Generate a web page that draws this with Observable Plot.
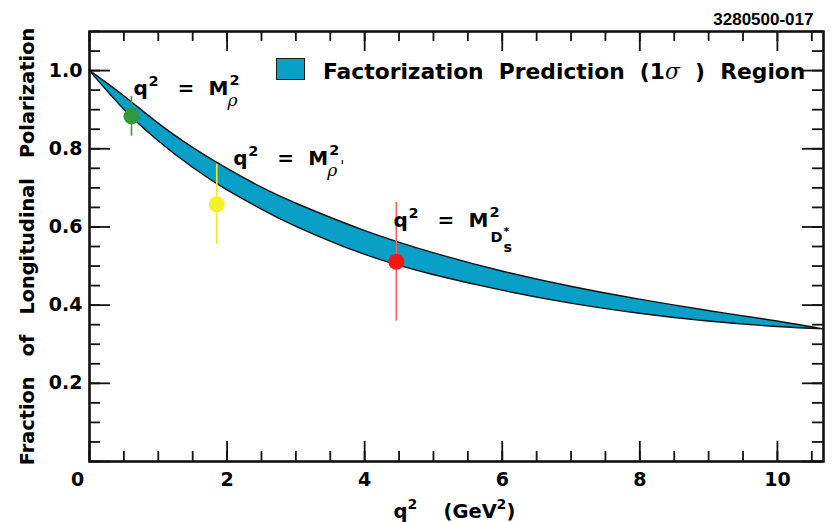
<!DOCTYPE html>
<html><head><meta charset="utf-8">
<script src="https://cdn.jsdelivr.net/npm/d3@7"></script>
<script src="https://cdn.jsdelivr.net/npm/@observablehq/plot@0.6"></script>
<style>
html,body{margin:0;padding:0;background:#fff;}
#wrap{position:relative;width:832px;height:522px;overflow:hidden;}
svg text{white-space:pre;}
#swatch{position:absolute;left:276px;top:58px;width:27px;height:20px;border:1.5px solid #1a1a1a;}
#legtext{position:absolute;left:323px;top:61px;font:bold 21.8px "DejaVu Sans",sans-serif;line-height:22px;white-space:pre;color:#000;}
#legtext i{font-family:"DejaVu Serif",serif;font-weight:normal;font-style:italic;}
</style></head><body><div id="wrap"></div>
<script>
// ---- data ----
const bandQ2    = [0, 0.5, 1, 1.5, 2, 2.5, 3, 4, 5, 6, 7, 8, 9, 10, 10.67];
const bandUpper = [1.0, 0.935, 0.865, 0.803, 0.749, 0.701, 0.660, 0.590, 0.533, 0.486, 0.447, 0.414, 0.385, 0.358, 0.338];
const bandLower = [1.0, 0.901, 0.820, 0.752, 0.694, 0.645, 0.601, 0.529, 0.477, 0.437, 0.404, 0.378, 0.358, 0.344, 0.338];

const pointQ2    = [0.61, 1.85, 4.46];
const pointFL    = [0.883, 0.658, 0.511];
const pointErr   = [0.051, 0.102, 0.152];
const pointColor = ["#2f9a37", "#f2f22a", "#ff1414"];
const barColor   = ["#3aa043", "#ecec30", "#ff5e5e"];

const labelQ2    = [0.64, 2.09, 4.42];
const labelFL    = [0.937, 0.758, 0.601];
const labelMeson = ["ρ", "ρ'", "D_s^*"];

const xMajor = [0, 2, 4, 6, 8, 10];
const xMinor = d3.range(0, 10.51, 0.5);
const yMajor = [0, 0.2, 0.4, 0.6, 0.8, 1.0];
const yMinor = d3.range(0, 1.101, 0.05);
const yLabels = [0.2, 0.4, 0.6, 0.8, 1.0];

const xTitle = ["q", "2", "(GeV", "2", ")"];
const yTitle = "Fraction   of   Longitudinal   Polarization";
const legendParts = ["Factorization  Prediction  (1", "σ", "  )  Region"];
const figId = "3280500-017";
const bandColor = "#0a9fc6";

// ---- tables ----
const band = bandQ2.map((q, i) => ({q2: q, hi: bandUpper[i], lo: bandLower[i]}));
const points = pointQ2.map((q, i) => ({q2: q, fl: pointFL[i], err: pointErr[i], color: pointColor[i], bar: barColor[i]}));
const labels = labelQ2.map((q, i) => ({q2: q, fl: labelFL[i], meson: labelMeson[i]}));

const font = "'DejaVu Sans', sans-serif";
const W = 832, H = 522, mL = 89, mR = 9, mT = 31, mB = 61;
const fw = W - mL - mR, fh = H - mT - mB;
const tickW = 1.8, bigX = 20, smallX = 10, bigY = 21, smallY = 11;

const chart = Plot.plot({
  width: W, height: H,
  marginLeft: mL, marginRight: mR, marginTop: mT, marginBottom: mB,
  x: {domain: [0, 10.67], axis: null},
  y: {domain: [0, 1.1], axis: null},
  style: {fontFamily: font, background: "white", color: "black"},
  marks: [
    Plot.areaY(band, {x: "q2", y1: "lo", y2: "hi", fill: bandColor, stroke: "#111", strokeWidth: 1.4, curve: "natural"}),
    Plot.ruleX(points, {x: "q2", y1: d => d.fl - d.err, y2: d => d.fl + d.err, stroke: d => d.bar, strokeWidth: 1.6}),
    Plot.dot(points, {x: "q2", y: "fl", r: 8, fill: d => d.color, stroke: null}),
    // inward ticks on all four sides
    Plot.tickX(xMajor, {x: d => d, insetTop: fh - bigX, stroke: "#111", strokeWidth: tickW}),
    Plot.tickX(xMinor, {x: d => d, insetTop: fh - smallX, stroke: "#111", strokeWidth: tickW}),
    Plot.tickX(xMajor, {x: d => d, insetBottom: fh - bigX, stroke: "#111", strokeWidth: tickW}),
    Plot.tickX(xMinor, {x: d => d, insetBottom: fh - smallX, stroke: "#111", strokeWidth: tickW}),
    Plot.tickY(yMajor, {y: d => d, insetRight: fw - bigY, stroke: "#111", strokeWidth: tickW}),
    Plot.tickY(yMinor, {y: d => d, insetRight: fw - smallY, stroke: "#111", strokeWidth: tickW}),
    Plot.tickY(yMajor, {y: d => d, insetLeft: fw - bigY, stroke: "#111", strokeWidth: tickW}),
    Plot.tickY(yMinor, {y: d => d, insetLeft: fw - smallY, stroke: "#111", strokeWidth: tickW}),
    // tick labels
    Plot.axisX({anchor: "bottom", ticks: xMajor.filter(v => v > 0), tickSize: 0, tickPadding: 11, fontSize: 19, fontWeight: "bold", label: null}),
    Plot.axisX({anchor: "bottom", ticks: [0], tickSize: 0, tickPadding: 11, dx: -12, fontSize: 19, fontWeight: "bold", label: null}),
    Plot.axisY({anchor: "left", ticks: yLabels, tickSize: 0, tickPadding: 7, tickFormat: d3.format(".1f"), fontSize: 19, fontWeight: "bold", label: null}),
    Plot.frame({stroke: "#111", strokeWidth: 2.6}),
    // annotations
    Plot.text(labels, {x: "q2", y: "fl", text: d => "q", textAnchor: "start", lineAnchor: "bottom", fontSize: 20, fontWeight: "bold", ariaLabel: () => "annotation"}),
    // titles
    Plot.text([yTitle], {frameAnchor: "left", rotate: -90, dx: -56, textAnchor: "middle", lineAnchor: "bottom", fontSize: 19.3, fontWeight: "bold"}),
    Plot.text([xTitle.join("")], {frameAnchor: "bottom-left", dx: 304, dy: 56, textAnchor: "start", lineAnchor: "bottom", fontSize: 19.5, fontWeight: "bold", ariaLabel: () => "xtitle"}),
    Plot.text([figId], {frameAnchor: "top-right", dx: -10, dy: -7, textAnchor: "end", lineAnchor: "bottom", fontSize: 17, fontWeight: "bold", fontFamily: "'Liberation Sans', Arial, sans-serif"})
  ]
});

// ---- rich text (superscripts / subscripts) ----
const NS = "http://www.w3.org/2000/svg";
function setRich(el, segs) {
  const bx = +(el.getAttribute("x") || 0), by = +(el.getAttribute("y") || 0);
  el.textContent = "";
  el.removeAttribute("dy");
  for (const s of segs) {
    const ts = document.createElementNS(NS, "tspan");
    ts.setAttribute("x", bx + s.x);
    ts.setAttribute("y", by + (s.y || 0));
    if (s.size) ts.setAttribute("font-size", s.size);
    if (s.italic) { ts.setAttribute("font-style", "italic"); ts.setAttribute("font-weight", "normal"); ts.setAttribute("font-family", "'DejaVu Serif', serif"); }
    ts.textContent = s.t;
    el.appendChild(ts);
  }
}
function findTexts(name) {
  let els = chart.querySelectorAll(`text[aria-label="${name}"]`);
  if (!els.length) els = chart.querySelectorAll(`g[aria-label="${name}"] text`);
  return Array.from(els);
}
findTexts("annotation").forEach((el, i) => {
  const m = labels[i].meson;
  const segs = [
    {t: "q", x: 0}, {t: "2", x: 15, y: -9, size: 14.5},
    {t: "=", x: 44}, {t: "M", x: 75}, {t: "2", x: 96, y: -10, size: 14.5}
  ];
  if (m.includes("_")) {
    const base = m.split("_")[0], sub = m.split("_")[1].split("^")[0], sup = m.split("^")[1];
    segs.push({t: base, x: 97, y: 15, size: 14.5}, {t: sub, x: 110, y: 25, size: 14.5}, {t: sup, x: 110, y: 8, size: 11});
  } else {
    segs.push({t: m[0], x: 94, y: 11, size: 17, italic: true});
    if (m.length > 1) segs.push({t: m.slice(1), x: 107, y: 6, size: 15, italic: true});
  }
  setRich(el, segs);
});
findTexts("xtitle").forEach(el => {
  setRich(el, [
    {t: xTitle[0], x: 0}, {t: xTitle[1], x: 14, y: -9, size: 14},
    {t: xTitle[2], x: 50}, {t: xTitle[3], x: 103, y: -9, size: 14}, {t: xTitle[4], x: 113}
  ]);
});

const wrap = document.getElementById("wrap");
wrap.appendChild(chart);
const sw = document.createElement("div"); sw.id = "swatch"; sw.style.background = bandColor; wrap.appendChild(sw);
const lt = document.createElement("div"); lt.id = "legtext";
lt.append(legendParts[0]);
const ii = document.createElement("i"); ii.textContent = legendParts[1]; lt.append(ii);
lt.append(legendParts[2]);
wrap.appendChild(lt);
</script></body></html>
